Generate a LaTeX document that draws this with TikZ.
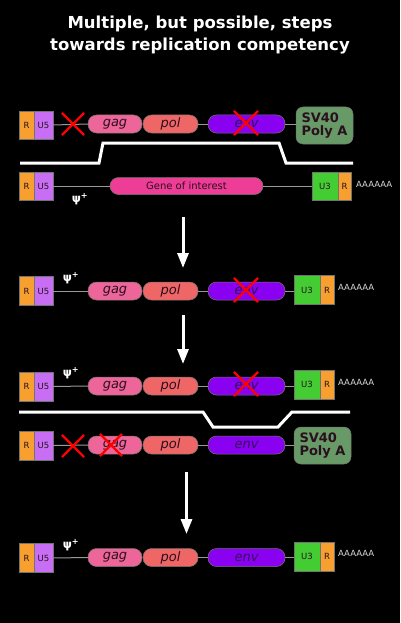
\documentclass[tikz,border=0pt]{standalone}
\usepackage{fontspec}
\setmainfont{DejaVu Sans}
\usetikzlibrary{arrows.meta,shapes.misc}
\definecolor{rorange}{HTML}{F7A030}
\definecolor{u5purple}{HTML}{C86EF5}
\definecolor{gagpink}{HTML}{EE6699}
\definecolor{polsalmon}{HTML}{EE6666}
\definecolor{envviolet}{HTML}{8A00F0}
\definecolor{svgreen}{HTML}{679A66}
\definecolor{u3green}{HTML}{44CC33}
\definecolor{goipink}{HTML}{EE3D96}
\definecolor{linegray}{HTML}{999999}
\definecolor{darktext}{HTML}{2A0F1E}
\definecolor{envtext}{HTML}{33105A}
\tikzset{
  base/.style={draw=black!55, line width=0.5pt, inner sep=0pt, text=darktext},
  rbox/.style={base, fill=rorange, minimum width=15pt, minimum height=28pt, font=\fontsize{8.5}{8.5}\selectfont},
  u5box/.style={base, fill=u5purple, minimum width=19pt, minimum height=28pt, font=\fontsize{8.5}{8.5}\selectfont},
  u3box/.style={base, fill=u3green, minimum width=26pt, minimum height=28pt, font=\fontsize{8.5}{8.5}\selectfont},
  rsmall/.style={base, fill=rorange, minimum width=14pt, minimum height=28pt, font=\fontsize{8.5}{8.5}\selectfont},
  pill/.style={base, rounded corners=8.5pt, minimum height=18pt, font=\fontsize{13}{13}\selectfont\itshape},
  gagp/.style={pill, fill=gagpink, minimum width=54pt},
  polp/.style={pill, fill=polsalmon, minimum width=55pt},
  envp/.style={pill, fill=envviolet, minimum width=77pt, text=envtext},
  goip/.style={pill, fill=goipink, minimum width=153pt, minimum height=17pt, font=\fontsize{10}{10}\selectfont},
  svbox/.style={base, fill=svgreen, rounded corners=7pt, minimum width=57pt, minimum height=37pt, font=\fontsize{13}{13.5}\selectfont\bfseries, align=left},
  conn/.style={draw=linegray, line width=1pt},
  redx/.style={cross out, draw=red, line width=2.2pt, minimum width=20pt, minimum height=20pt, inner sep=0pt},
  psi/.style={text=white, font=\fontsize{11.5}{11.5}\selectfont\bfseries, inner sep=0pt},
  polya/.style={text=white!85!black, font=\fontsize{8.5}{8.5}\selectfont, inner sep=0pt, anchor=west},
  sep/.style={draw=white, line width=3pt},
  flow/.style={draw=white, line width=3pt, -{Triangle[width=11pt,length=15pt]}},
  titletext/.style={text=white, font=\fontsize{16.5}{22}\selectfont\bfseries, align=center}
}
\begin{document}
\begin{tikzpicture}[x=1pt,y=-1pt]
\fill[black] (0,0) rectangle (400,623);
\useasboundingbox (0,0) rectangle (400,623);
\node[titletext] (title) at (200,35) {Multiple, but possible, steps\\towards replication competency};

% Row 1
\node[rbox] (r1) at (26.5,125) {R};
\node[u5box] (u1) at (43.5,125) {U5};
\node[gagp] (gag1) at (115,124) {gag};
\node[polp] (pol1) at (170.5,124) {pol};
\node[envp] (env1) at (246.5,124) {env};
\node[svbox] (sv1) at (324.5,125.5) {SV40\\Poly A};
\draw[conn] (u1.east) -- (gag1.west);
\draw[conn] (pol1.east) -- (env1.west);
\draw[conn] (env1.east) -- (sv1.west |- env1.east);
\node[redx] (x1a) at (73,124) {};
\node[redx, minimum width=22pt, minimum height=22pt] (x1b) at (246,123) {};

% separator 1
\coordinate (s1a) at (20,163);
\coordinate (s1b) at (99,163);
\coordinate (s1c) at (103,143);
\coordinate (s1d) at (279,143);
\coordinate (s1e) at (286,163);
\coordinate (s1f) at (353,163);
\draw[sep] (s1a) -- (s1b) -- (s1c) -- (s1d) -- (s1e) -- (s1f);

% Row 2
\node[rbox] (r2) at (26.5,186) {R};
\node[u5box] (u2) at (43.5,186) {U5};
\node[goip] (goi2) at (186.5,186) {Gene of interest};
\node[u3box] (u32) at (325,186) {U3};
\node[rsmall, minimum width=13pt] (rr2) at (344.5,186) {R};
\node[polya] (a2) at (356,184) {AAAAAA};
\draw[conn] (u2.east) -- (goi2.west);
\draw[conn] (goi2.east) -- (u32.west);
\node[psi] (p2) at (80,199) {ψ\textsuperscript{+}};

% arrow 1
\coordinate (f1a) at (183,217);
\coordinate (f1b) at (183,268);
\draw[flow] (f1a) -- (f1b);

% Row 3
\node[rbox, minimum height=29pt] (r3) at (26.5,291) {R};
\node[u5box, minimum height=29pt] (u3) at (43.5,291) {U5};
\node[gagp] (gag3) at (115,291) {gag};
\node[polp] (pol3) at (170.5,291) {pol};
\node[envp] (env3) at (246.5,291) {env};
\node[u3box, minimum height=29pt] (u33) at (307,290) {U3};
\node[rsmall, minimum height=29pt] (rr3) at (327,290) {R};
\node[polya] (a3) at (338,287) {AAAAAA};
\draw[conn] (u3.east) -- (gag3.west);
\draw[conn] (pol3.east) -- (env3.west);
\draw[conn] (env3.east) -- (u33.west |- env3.east);
\node[psi] (p3) at (71,278) {ψ\textsuperscript{+}};
\node[redx, minimum width=22pt, minimum height=22pt] (x3) at (246,290) {};

% arrow 2
\coordinate (f2a) at (183,315);
\coordinate (f2b) at (183,364);
\draw[flow] (f2a) -- (f2b);

% Row 4
\node[rbox, minimum height=29pt] (r4) at (26.5,386.5) {R};
\node[u5box, minimum height=29pt] (u4) at (43.5,386.5) {U5};
\node[gagp] (gag4) at (115,386) {gag};
\node[polp] (pol4) at (170.5,386) {pol};
\node[envp] (env4) at (246.5,386) {env};
\node[u3box, minimum height=29pt] (u34) at (307,384.5) {U3};
\node[rsmall, minimum height=29pt] (rr4) at (327,384.5) {R};
\node[polya] (a4) at (338,382) {AAAAAA};
\draw[conn] (u4.east) -- (gag4.west);
\draw[conn] (pol4.east) -- (env4.west);
\draw[conn] (env4.east) -- (u34.west |- env4.east);
\node[psi] (p4) at (71,373) {ψ\textsuperscript{+}};
\node[redx, minimum width=22pt, minimum height=22pt] (x4) at (246,384) {};

% separator 2
\coordinate (s2a) at (19,412);
\coordinate (s2b) at (203,412);
\coordinate (s2c) at (213,427);
\coordinate (s2d) at (278,427);
\coordinate (s2e) at (292,412);
\coordinate (s2f) at (350,412);
\draw[sep] (s2a) -- (s2b) -- (s2c) -- (s2d) -- (s2e) -- (s2f);

% Row 5
\node[rbox, minimum height=29pt] (r5) at (26.5,445.5) {R};
\node[u5box, minimum height=29pt] (u5) at (43.5,445.5) {U5};
\node[gagp] (gag5) at (115,445) {gag};
\node[polp] (pol5) at (170.5,445) {pol};
\node[envp] (env5) at (246.5,445) {env};
\node[svbox] (sv5) at (322.5,445.5) {SV40\\Poly A};
\draw[conn] (u5.east) -- (gag5.west);
\draw[conn] (pol5.east) -- (env5.west);
\draw[conn] (env5.east) -- (sv5.west |- env5.east);
\node[redx] (x5a) at (73,446) {};
\node[redx] (x5b) at (111,445) {};

% arrow 3
\coordinate (f3a) at (186.5,472);
\coordinate (f3b) at (186.5,534);
\draw[flow] (f3a) -- (f3b);

% Row 6
\node[rbox, minimum height=29pt] (r6) at (26.5,558) {R};
\node[u5box, minimum height=29pt] (u6) at (43.5,558) {U5};
\node[gagp] (gag6) at (115,557.5) {gag};
\node[polp] (pol6) at (170.5,557.5) {pol};
\node[envp] (env6) at (246.5,557.5) {env};
\node[u3box, minimum height=29pt] (u36) at (307,556.5) {U3};
\node[rsmall, minimum height=29pt] (rr6) at (327,556.5) {R};
\node[polya] (a6) at (338,553) {AAAAAA};
\draw[conn] (u6.east) -- (gag6.west);
\draw[conn] (pol6.east) -- (env6.west);
\draw[conn] (env6.east) -- (u36.west |- env6.east);
\node[psi] (p6) at (71,545) {ψ\textsuperscript{+}};
\end{tikzpicture}
\end{document}
